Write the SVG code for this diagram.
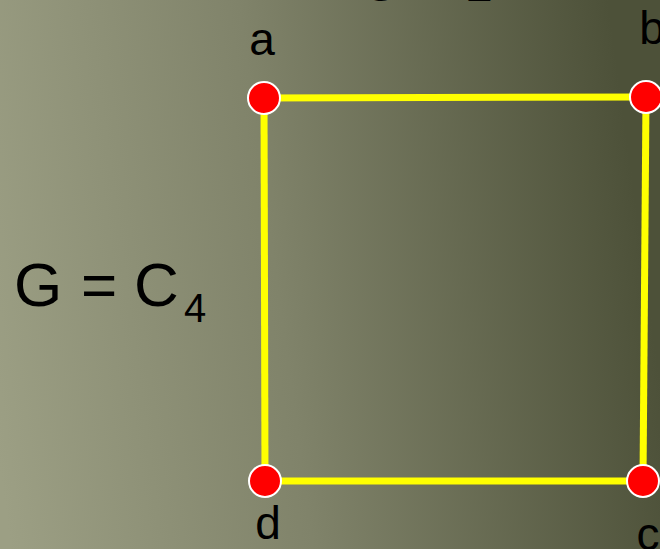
<svg xmlns="http://www.w3.org/2000/svg" width="660" height="549" viewBox="0 0 660 549">
<defs>
<linearGradient id="bg" gradientUnits="userSpaceOnUse" x1="0" y1="470" x2="660" y2="380">
<stop offset="0" stop-color="#9c9f84"/>
<stop offset="0.45" stop-color="#80836a"/>
<stop offset="1" stop-color="#4d5139"/>
</linearGradient>
<style>
.lbl{font-family:"Liberation Sans",Arial,sans-serif;fill:#000;}
.edge{stroke:#ffff00;stroke-width:7;fill:none;}
.node{fill:#ff0000;stroke:#ffffff;stroke-width:2;}
</style>
</defs>
<rect x="0" y="0" width="660" height="549" fill="url(#bg)"/>
<text class="lbl" x="362" y="1" font-size="48">G</text>
<text class="lbl" x="466" y="1" font-size="48">2</text>
<g id="title">
<text class="lbl" x="14" y="306" font-size="62">G</text>
<text class="lbl" x="81" y="306" font-size="62">=</text>
<text class="lbl" x="134" y="306" font-size="62">C</text>
<text class="lbl" x="184" y="322" font-size="40">4</text>
</g>
<g id="connectors">
<line class="edge" x1="264" y1="98" x2="646" y2="97"/>
<line class="edge" x1="646" y1="97" x2="643" y2="481"/>
<line class="edge" x1="643" y1="481" x2="265" y2="481"/>
<line class="edge" x1="265" y1="481" x2="264" y2="98"/>
</g>
<g id="node-a">
<circle class="node" cx="264" cy="98" r="16"/>
<text class="lbl" x="262" y="55" font-size="46" text-anchor="middle">a</text>
</g>
<g id="node-b">
<circle class="node" cx="646" cy="97" r="16"/>
<text class="lbl" x="652" y="44" font-size="46" text-anchor="middle">b</text>
</g>
<g id="node-c">
<circle class="node" cx="643" cy="481" r="16"/>
<text class="lbl" x="648" y="550" font-size="46" text-anchor="middle">c</text>
</g>
<g id="node-d">
<circle class="node" cx="265" cy="481" r="16"/>
<text class="lbl" x="268" y="539" font-size="46" text-anchor="middle">d</text>
</g>
</svg>
